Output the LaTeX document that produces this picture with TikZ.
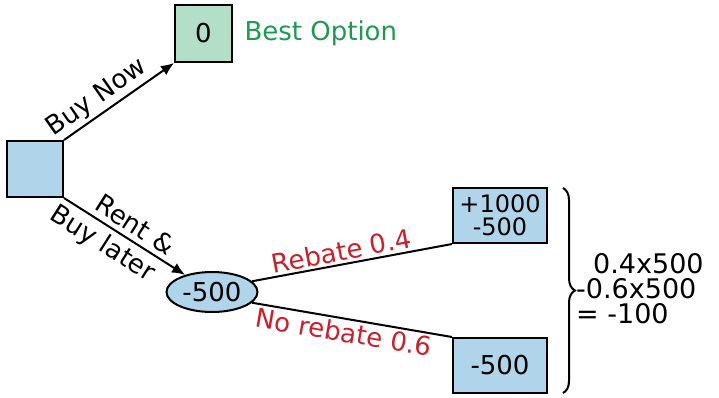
\documentclass[tikz,border=0pt]{standalone}
\usepackage{fontspec}
\setmainfont{DejaVu Sans}
\usetikzlibrary{arrows.meta,shapes.geometric,decorations.pathreplacing}
\definecolor{boxblue}{HTML}{B0D4EA}
\definecolor{boxgreen}{HTML}{B3DFC9}
\definecolor{txtgreen}{HTML}{1E9A50}
\definecolor{txtred}{HTML}{C8202C}
\def\lw{2pt}
\def\bigfont{\fontsize{26}{26}\selectfont}
\def\boxfont{\fontsize{24}{23}\selectfont}
\tikzset{
  decision/.style={draw, line width=\lw, fill=boxblue, minimum width=56pt, minimum height=56pt, inner sep=0pt, font=\bigfont},
  payoff/.style={draw, line width=\lw, fill=boxblue, minimum width=94pt, minimum height=55pt, inner sep=0pt, align=center, font=\boxfont},
  chancenode/.style={draw, ellipse, line width=\lw, fill=boxblue, minimum width=91pt, minimum height=40pt, inner sep=0pt, font=\bigfont},
  branch/.style={line width=\lw},
  choice/.style={branch, -{Latex[length=13pt,width=11pt]}},
  lbl/.style={font=\bigfont, sloped, inner sep=2.5pt},
  prob/.style={lbl, text=txtred}
}
\begin{document}
\begin{tikzpicture}[x=1pt, y=-1pt]
\useasboundingbox (0,0) rectangle (719,397);
\node [decision] (root) at (35,169) {};
\node [decision, fill=boxgreen, minimum width=57pt, minimum height=57pt] (best) at (203.5,33.5) {0};
\node [anchor=west, text=txtgreen, font=\bigfont] (bestlbl) at (241,33) {Best Option};
\node [chancenode] (ev) at (212,292) {-500};
\node [payoff] (rebate) at (500,215.5) {+1000\\-500};
\node [payoff, font=\bigfont] (norebate) at (500,365.5) {-500};
\draw [choice] (root.north east) -- node [lbl, pos=.38, above] {Buy Now} (best.south west);
\draw [choice] (root.south east) -- node [lbl, pos=.52, above, inner sep=5pt] {Rent \&} node [lbl, pos=.40, below, inner sep=5pt] {Buy later} (ev);
\draw [branch] (ev.15) -- node [prob, pos=.46, above] {Rebate 0.4} (rebate.south west);
\draw [branch] (ev.-15) -- node [prob, pos=.47, below] {No rebate 0.6} (norebate.north west);
\coordinate (bracetop) at (563,188);
\coordinate (bracebot) at (563,393);
\draw [line width=\lw, decorate, decoration={brace, amplitude=12pt}] (bracetop) -- (bracebot);
\node [anchor=west, align=left, inner sep=0pt, font=\fontsize{27}{25}\selectfont] (calc) at (576,289) {\hspace{17pt}0.4x500\\-0.6x500\\= -100};
\end{tikzpicture}
\end{document}
